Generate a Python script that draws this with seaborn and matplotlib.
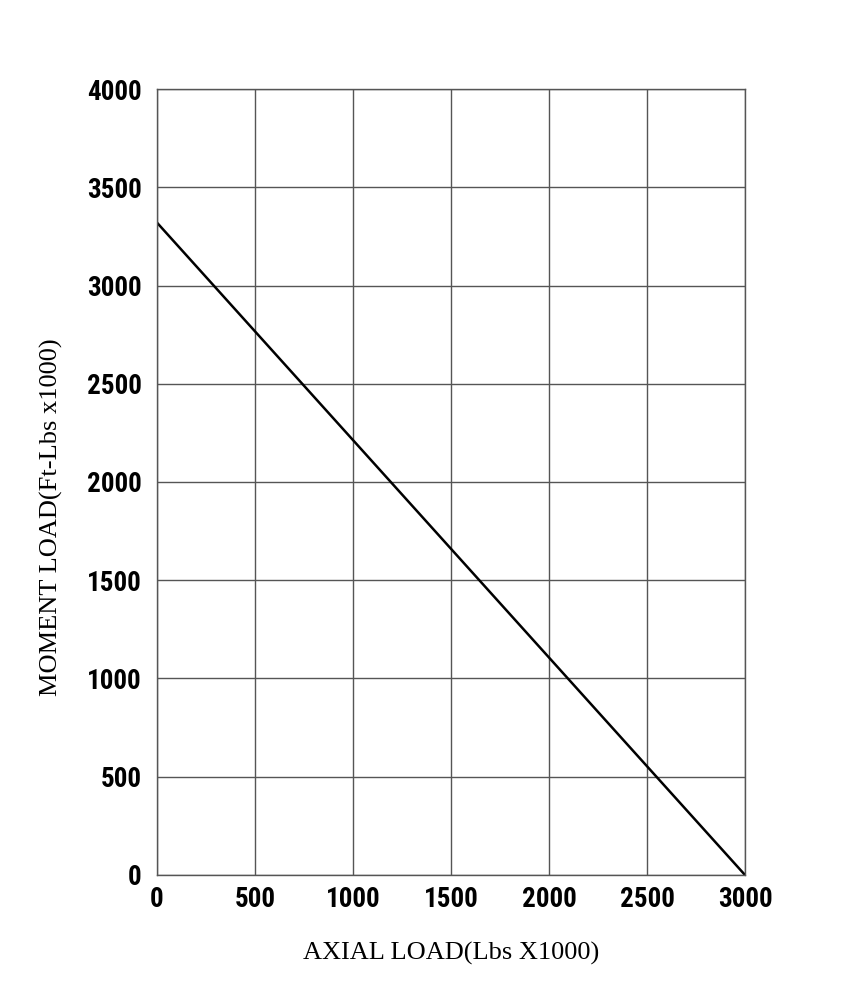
import matplotlib
matplotlib.use("Agg")
import matplotlib.pyplot as plt
from matplotlib import font_manager
import seaborn as sns
import pandas as pd

# Load curve
axial_load = [0, 3000]
moment_load = [3320, 0]

x_ticks = [0, 500, 1000, 1500, 2000, 2500, 3000]
y_ticks = [0, 500, 1000, 1500, 2000, 2500, 3000, 3500, 4000]

sns.set_style("white")

# pick a narrow bold face if one is around
installed = {f.name for f in font_manager.fontManager.ttflist}
narrow = [n for n in ['Liberation Sans Narrow', 'Roboto Condensed', 'Open Sans Condensed',
                      'DejaVu Sans Condensed'] if n in installed]
tick_font = narrow + ['Liberation Sans', 'DejaVu Sans']
tick_size = 19.5 if narrow else 18
label_font = ['Liberation Serif', 'DejaVu Serif']

df = pd.DataFrame({'axial': axial_load, 'moment': moment_load})

fig = plt.figure(figsize=(8.49, 9.88), dpi=100)
ax = fig.add_axes([0.1849, 0.1144, 0.6926, 0.7955])

sns.lineplot(data=df, x='axial', y='moment', color='black', linewidth=1.8, ax=ax)

ax.set_xlim(0, 3000)
ax.set_ylim(0, 4000)
ax.set_xticks(x_ticks)
ax.set_yticks(y_ticks)
ax.grid(True, color='#555555', linewidth=1.0)
for s in ax.spines.values():
    s.set_color('#555555')
    s.set_linewidth(1.0)
ax.tick_params(axis='x', length=0, pad=8, colors='black')
ax.tick_params(axis='y', length=0, pad=11, colors='black')

for lbl in ax.get_xticklabels() + ax.get_yticklabels():
    lbl.set_family(tick_font)
    lbl.set_fontstretch('condensed')
    lbl.set_fontweight('bold')
    lbl.set_fontsize(tick_size)
    lbl.set_color('black')

ax.set_xlabel('AXIAL LOAD(Lbs X1000)', family=label_font, fontsize=19, color='black')
ax.set_ylabel('MOMENT LOAD(Ft-Lbs x1000)', family=label_font, fontsize=19, color='black')
ax.xaxis.set_label_coords(0.5, -0.085)
ax.yaxis.set_label_coords(-0.16, 0.455)

plt.savefig('out.png', dpi=100)
